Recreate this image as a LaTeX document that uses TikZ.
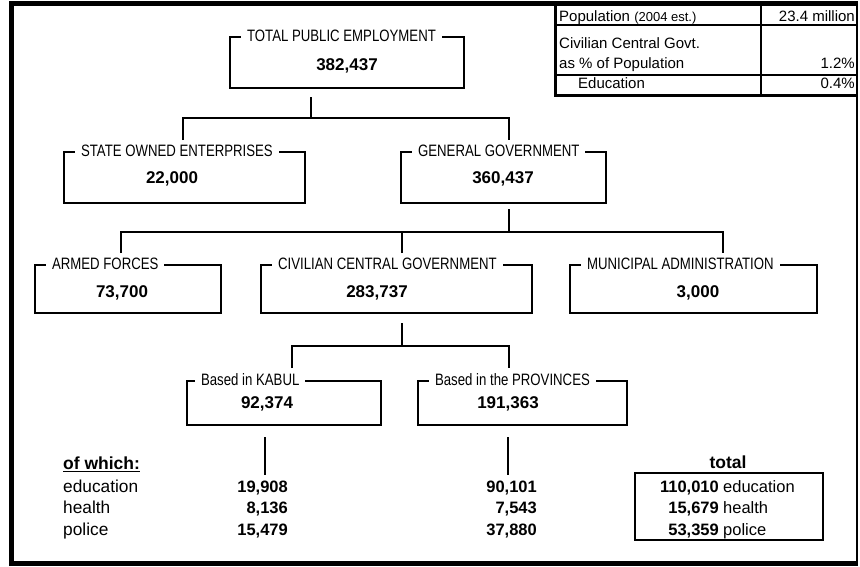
\documentclass[tikz,border=0pt]{standalone}
\usepackage{fontspec}
\setmainfont{Liberation Sans}
\newfontfamily\lblfont[FakeStretch=0.8]{Liberation Sans}
\begin{document}
\begin{tikzpicture}[x=1pt,y=-1pt,
  box/.style={draw, line width=2.2pt, inner sep=0pt},
  lbl/.style={fill=white, inner xsep=6pt, inner ysep=1pt, anchor=west, font=\lblfont\fontsize{16.5}{18}\selectfont},
  num/.style={anchor=base, inner sep=0pt, font=\bfseries\fontsize{17}{19}\selectfont},
  conn/.style={line width=2.2pt},
  txt/.style={inner sep=0pt, font=\fontsize{16.5}{18}\selectfont},
  ltxt/.style={inner sep=0pt, font=\fontsize{17.3}{19}\selectfont},
  btxt/.style={inner sep=0pt, font=\bfseries\fontsize{16.5}{18}\selectfont},
  tbl/.style={inner sep=0pt, font=\fontsize{15}{17}\selectfont}]
\fill[white] (0,0) rectangle (860,566);
\useasboundingbox (0,0) rectangle (860,566);
% frame
\draw[line width=5pt] (11.5,566) -- (11.5,3.5) -- (857,3.5);
\draw[line width=5pt] (9,563.5) -- (857,563.5);
\draw[line width=1.5pt] (857,1) -- (857,566);
% table
\draw[line width=1.3pt] (555.5,25) -- (857,25);
\draw[line width=1.3pt] (555.5,75) -- (857,75);
\draw[line width=1.3pt] (761,3) -- (761,95.5);
\draw[line width=3pt] (555.5,1) -- (555.5,95.5) -- (857,95.5);
\node[tbl, anchor=base west] (t1) at (559,21) {Population {\fontsize{13}{15}\selectfont(2004 est.)}};
\node[tbl, anchor=base east] (t1v) at (855,21) {23.4 million};
\node[tbl, anchor=base west] (t2a) at (559,48) {Civilian Central Govt.};
\node[tbl, anchor=base west] (t2b) at (559,68) {as \% of Population};
\node[tbl, anchor=base east] (t2v) at (855,68) {1.2\%};
\node[tbl, anchor=base west] (t3) at (578,88) {Education};
\node[tbl, anchor=base east] (t3v) at (855,88) {0.4\%};
% boxes
\node[box, minimum width=234pt, minimum height=51pt] (total) at (347,62.5) {};
\node[lbl] (totalL) at ([xshift=12pt]total.north west) {TOTAL PUBLIC EMPLOYMENT};
\node[num] (totalN) at (347,70) {382,437};

\node[box, minimum width=241pt, minimum height=51pt] (soe) at (184.5,177.5) {};
\node[lbl] (soeL) at ([xshift=12pt]soe.north west) {STATE OWNED ENTERPRISES};
\node[num] (soeN) at (172,183) {22,000};

\node[box, minimum width=205pt, minimum height=51pt] (gg) at (503.5,177.5) {};
\node[lbl] (ggL) at ([xshift=12pt]gg.north west) {GENERAL GOVERNMENT};
\node[num] (ggN) at (503,183) {360,437};

\node[box, minimum width=186pt, minimum height=48pt] (af) at (128,289) {};
\node[lbl] (afL) at ([xshift=12pt]af.north west) {ARMED FORCES};
\node[num] (afN) at (122,297) {73,700};

\node[box, minimum width=271pt, minimum height=48pt] (ccg) at (396.5,289) {};
\node[lbl] (ccgL) at ([xshift=12pt]ccg.north west) {CIVILIAN CENTRAL GOVERNMENT};
\node[num] (ccgN) at (377,297) {283,737};

\node[box, minimum width=247pt, minimum height=48pt] (ma) at (693.5,289) {};
\node[lbl] (maL) at ([xshift=12pt]ma.north west) {MUNICIPAL ADMINISTRATION};
\node[num] (maN) at (698,297) {3,000};

\node[box, minimum width=194pt, minimum height=44pt] (kabul) at (284,403) {};
\node[lbl] (kabulL) at ([xshift=9pt]kabul.north west) {Based in KABUL};
\node[num] (kabulN) at (267,408) {92,374};

\node[box, minimum width=209pt, minimum height=44pt] (prov) at (522.5,403) {};
\node[lbl] (provL) at ([xshift=12pt]prov.north west) {Based in the PROVINCES};
\node[num] (provN) at (508,408) {191,363};

% connectors
\coordinate (a0) at (311,97);
\coordinate (a1) at (311,118);
\coordinate (aL) at (183,140);
\coordinate (aR) at (509,140);
\draw[conn] (a0) -- (a1);
\draw[conn] (aL) |- (a1) -| (aR);

\coordinate (b0) at (509,209);
\coordinate (b1) at (509,232);
\coordinate (bL) at (121,253);
\coordinate (bM) at (402,253);
\coordinate (bR) at (723,253);
\draw[conn] (b0) -- (b1);
\draw[conn] (bL) |- (b1) -| (bR);
\draw[conn] (bM) -- (bM |- b1);

\coordinate (c0) at (402,323);
\coordinate (c1) at (402,346);
\coordinate (cL) at (292,368);
\coordinate (cR) at (509,368);
\draw[conn] (c0) -- (c1);
\draw[conn] (cL) |- (c1) -| (cR);

\coordinate (d0) at (265,437);
\coordinate (d1) at (265,475);
\coordinate (e0) at (508,437);
\coordinate (e1) at (508,475);
\draw[conn] (d0) -- (d1);
\draw[conn] (e0) -- (e1);

% of which
\node[inner sep=0pt, font=\bfseries\fontsize{17.5}{19}\selectfont, anchor=base west] (ofw) at (63,469) {of which:};
\draw[line width=1.8pt] ([yshift=-2.5pt]ofw.base west) -- ([yshift=-2.5pt]ofw.base east);
\node[ltxt, anchor=base west] (r1) at (63,492) {education};
\node[ltxt, anchor=base west] (r2) at (63,513) {health};
\node[ltxt, anchor=base west] (r3) at (63,535) {police};
\node[btxt, anchor=base east] (k1) at (288,492) {19,908};
\node[btxt, anchor=base east] (k2) at (288,513) {8,136};
\node[btxt, anchor=base east] (k3) at (288,535) {15,479};
\node[btxt, anchor=base east] (p1) at (537,492) {90,101};
\node[btxt, anchor=base east] (p2) at (537,513) {7,543};
\node[btxt, anchor=base east] (p3) at (537,535) {37,880};

% totals
\node[inner sep=0pt, font=\bfseries\fontsize{17.5}{19}\selectfont, anchor=base] (tot) at (728,468) {total};
\node[box, minimum width=188pt, minimum height=67pt] (totbox) at (729,506.5) {};
\node[btxt, anchor=base east] (s1) at (719,492) {110,010};
\node[btxt, anchor=base east] (s2) at (719,513) {15,679};
\node[btxt, anchor=base east] (s3) at (719,535) {53,359};
\node[txt, anchor=base west] (w1) at (723,492) {education};
\node[txt, anchor=base west] (w2) at (723,513) {health};
\node[txt, anchor=base west] (w3) at (723,535) {police};
\end{tikzpicture}
\end{document}
